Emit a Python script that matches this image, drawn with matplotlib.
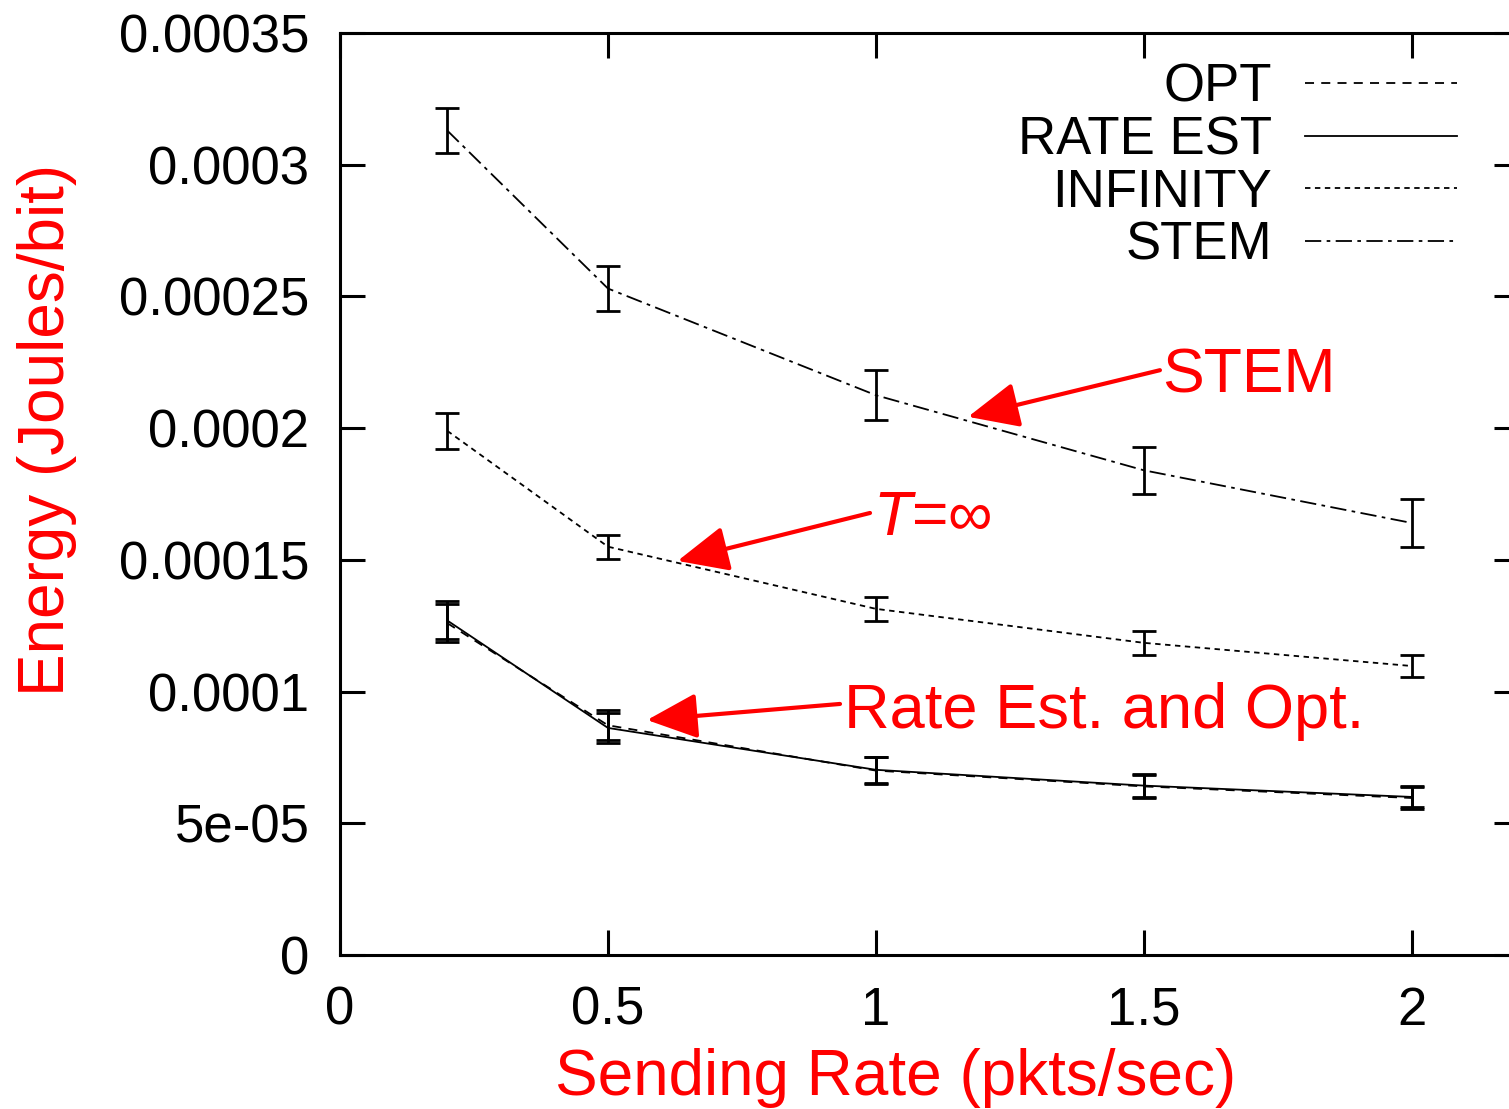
import numpy as np
import matplotlib
matplotlib.use("Agg")
import matplotlib.pyplot as plt

plt.rcParams['font.family'] = ['Liberation Sans', 'DejaVu Sans']
plt.rcParams['mathtext.fontset'] = 'custom'
plt.rcParams['mathtext.it'] = 'Liberation Sans:italic'
plt.rcParams['mathtext.rm'] = 'Liberation Sans'

# sending rate (pkts/sec)
rates = [0.2, 0.5, 1.0, 1.5, 2.0]

# energy (Joules/bit), mean and error half-width
opt = [1.26e-4, 8.72e-5, 7.0e-5, 6.4e-5, 5.96e-5]
opt_err = [7.2e-6, 5.7e-6, 5.0e-6, 4.5e-6, 4.0e-6]
rate_est = [1.27e-4, 8.62e-5, 7.03e-5, 6.43e-5, 6.0e-5]
rate_est_err = [7.2e-6, 5.7e-6, 5.0e-6, 4.5e-6, 4.0e-6]
infinity = [1.99e-4, 1.55e-4, 1.314e-4, 1.185e-4, 1.097e-4]
infinity_err = [6.8e-6, 4.6e-6, 4.5e-6, 4.5e-6, 4.0e-6]
stem = [3.13e-4, 2.53e-4, 2.125e-4, 1.84e-4, 1.64e-4]
stem_err = [8.7e-6, 8.5e-6, 9.5e-6, 9.0e-6, 9.0e-6]

series_labels = ["OPT", "RATE EST", "INFINITY", "STEM"]

xticks = [0, 0.5, 1, 1.5, 2]
xtick_labels = ["0", "0.5", "1", "1.5", "2"]
yticks = [0, 5e-05, 1e-4, 1.5e-4, 2e-4, 2.5e-4, 3e-4, 3.5e-4]
ytick_labels = ["0", "5e-05", "0.0001", "0.00015", "0.0002", "0.00025", "0.0003", "0.00035"]

fig = plt.figure(figsize=(15.09, 11.09), dpi=100)
ax = fig.add_axes([340 / 1509, 1 - 955 / 1109, 1179 / 1509, 922 / 1109])

styles = [(0, (5, 4)), "-", (0, (3, 2.5)), (0, (9, 3, 2, 3))]
data = [(opt, opt_err), (rate_est, rate_est_err), (infinity, infinity_err), (stem, stem_err)]
handles = []
for (y, e), ls, lab in zip(data, styles, series_labels):
    eb = ax.errorbar(rates, y, yerr=e, color="black", linestyle=ls, lw=1.3,
                     elinewidth=2, capsize=8.5, capthick=2, label=lab)
    handles.append(eb[0])

ax.set_xlim(0, 2.2)
ax.set_ylim(0, 0.00035)
ax.set_xticks(xticks)
ax.set_xticklabels(xtick_labels)
ax.set_yticks(yticks)
ax.set_yticklabels(ytick_labels)
ax.tick_params(direction="in", length=18, width=2.2, labelsize=38,
               top=True, right=True, pad=22)
for s in ax.spines.values():
    s.set_linewidth(2.2)

ax.set_xlabel("Sending Rate (pkts/sec)", color="red", fontsize=46)
ax.xaxis.set_label_coords(0.4716, -0.101)
ax.set_ylabel("Energy (Joules/bit)", color="red", fontsize=46)
ax.yaxis.set_label_coords(-0.223, 0.569)

leg = ax.legend(handles=handles, labels=series_labels, loc="upper right",
                bbox_to_anchor=(0.9474, 0.968), frameon=False, markerfirst=False,
                fontsize=38, handlelength=2.88, handletextpad=0.62,
                labelspacing=0.05, borderpad=0, borderaxespad=0)

# annotations
arrow = dict(arrowstyle="-|>,head_length=0.6,head_width=0.27", color="red",
             lw=3, mutation_scale=52, shrinkA=0, shrinkB=0)
ax.annotate("", xy=(1.172, 2.043e-4), xytext=(1.53, 2.22e-4), arrowprops=arrow)
ax.text(1.535, 2.134e-4, "STEM", color="red", fontsize=45, va="baseline")
ax.annotate("", xy=(0.63, 1.496e-4), xytext=(0.989, 1.678e-4), arrowprops=arrow)
ax.text(0.994, 1.595e-4, "$T$=\u221e", color="red", fontsize=45, va="baseline")
ax.annotate("", xy=(0.573, 0.892e-4), xytext=(0.933, 0.953e-4), arrowprops=arrow)
ax.text(0.94, 0.862e-4, "Rate Est. and Opt.", color="red", fontsize=45.5, va="baseline")

fig.savefig("out.png", dpi=100)
